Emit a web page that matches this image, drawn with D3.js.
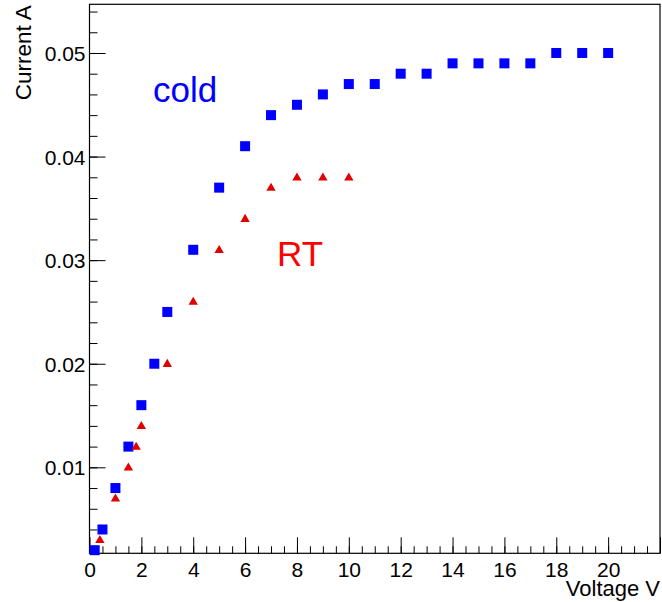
<!DOCTYPE html>
<html>
<head>
<meta charset="utf-8">
<script src="https://cdn.jsdelivr.net/npm/d3@7"></script>
<style>
  body { margin: 0; background: #fff; }
  svg text { font-family: "Liberation Sans", Arial, Helvetica, sans-serif; }
</style>
</head>
<body>
<svg id="chart"></svg>
<script>
// cold run (squares)
const coldV = [0.2, 0.5, 1, 1.5, 2, 2.5, 3, 4, 5, 6, 7, 8, 9, 10, 11, 12, 13, 14, 15, 16, 17, 18, 19, 20];
const coldI = [0.002, 0.004, 0.008, 0.012, 0.016, 0.020, 0.025, 0.031, 0.037, 0.041, 0.044, 0.045, 0.046, 0.047, 0.047, 0.048, 0.048, 0.049, 0.049, 0.049, 0.049, 0.050, 0.050, 0.050];

// room temperature (triangles)
const rtV = [0.4, 1, 1.5, 1.8, 2, 3, 4, 5, 6, 7, 8, 9, 10];
const rtI = [0.003, 0.007, 0.010, 0.012, 0.014, 0.020, 0.026, 0.031, 0.034, 0.037, 0.038, 0.038, 0.038];

const xTickLabels = [0, 2, 4, 6, 8, 10, 12, 14, 16, 18, 20];
const yTickLabels = [0.01, 0.02, 0.03, 0.04, 0.05];

const width = 662;
const height = 602;

const svg = d3.select('#chart')
  .attr('width', width)
  .attr('height', height);

// frame edges (ROOT pad)
const padL = 89.5, padR = 660, padT = 4.3, padB = 553.3;

const x = d3.scaleLinear().domain([0, 22]).range([padL, padR]);
const y = d3.scaleLinear().domain([0.0017, 0.0547]).range([padB, padT]);

// ticks point inward, like ROOT
const xMinor = d3.axisBottom(x)
  .tickValues(d3.range(0, 22.01, 0.5))
  .tickSize(-7)
  .tickFormat('');
const xMajor = d3.axisBottom(x)
  .tickValues(d3.range(0, 22.01, 2))
  .tickSize(-16)
  .tickFormat(d => xTickLabels.includes(d) ? d : '');

const yMinor = d3.axisLeft(y)
  .tickValues(d3.range(0.002, 0.0547, 0.002))
  .tickSize(-8)
  .tickFormat('');
const yMajor = d3.axisLeft(y)
  .tickValues(yTickLabels)
  .tickSize(-16)
  .tickFormat(d3.format('.2f'));

function styleAxis(g) {
  g.select('.domain').remove();
  g.selectAll('line').attr('stroke', '#000').attr('stroke-width', 1);
  g.selectAll('text').attr('fill', '#000').style('font-size', '21px');
}

svg.append('g').attr('transform', `translate(0,${padB})`).call(xMinor).call(styleAxis);
svg.append('g').attr('transform', `translate(0,${padB})`).call(xMajor).call(styleAxis)
  .selectAll('text').attr('dy', '0').attr('y', 23.5);
svg.append('g').attr('transform', `translate(${padL},0)`).call(yMinor).call(styleAxis);
svg.append('g').attr('transform', `translate(${padL},0)`).call(yMajor).call(styleAxis)
  .selectAll('text').attr('x', -4).attr('dy', '0.36em');

// frame
svg.append('rect')
  .attr('x', padL).attr('y', padT)
  .attr('width', padR - padL).attr('height', padB - padT)
  .attr('fill', 'none')
  .attr('stroke', '#000')
  .attr('stroke-width', 1.2);

// axis titles
svg.append('text')
  .attr('x', padR).attr('y', 596)
  .attr('text-anchor', 'end')
  .style('font-size', '22px')
  .attr('fill', '#000')
  .text('Voltage V');

svg.append('text')
  .attr('transform', `translate(31,${padT + 1}) rotate(-90)`)
  .attr('text-anchor', 'end')
  .style('font-size', '22.5px')
  .attr('fill', '#000')
  .text('Current A');

// markers
const cold = coldV.map((v, i) => ({ v, c: coldI[i] }));
const rt = rtV.map((v, i) => ({ v, c: rtI[i] }));

svg.append('g').selectAll('rect.cold')
  .data(cold)
  .enter()
  .append('rect')
  .attr('class', 'cold')
  .attr('x', d => x(d.v) - 5)
  .attr('y', d => y(d.c) - 5)
  .attr('width', 10)
  .attr('height', 10)
  .attr('fill', '#0000ff');

const tri = d3.symbol().type(d3.symbolTriangle).size(38);
svg.append('g').selectAll('path.rt')
  .data(rt)
  .enter()
  .append('path')
  .attr('class', 'rt')
  .attr('d', tri)
  .attr('transform', d => `translate(${x(d.v)},${y(d.c) + 0.5})`)
  .attr('fill', '#e00000');

// labels
svg.append('text')
  .attr('x', x(2.45)).attr('y', y(0.04527))
  .style('font-size', '35px')
  .attr('fill', '#0000ff')
  .text('cold');

svg.append('text')
  .attr('x', x(7.23)).attr('y', y(0.02944))
  .style('font-size', '35px')
  .attr('fill', '#ff0000')
  .text('RT');
</script>
</body>
</html>
